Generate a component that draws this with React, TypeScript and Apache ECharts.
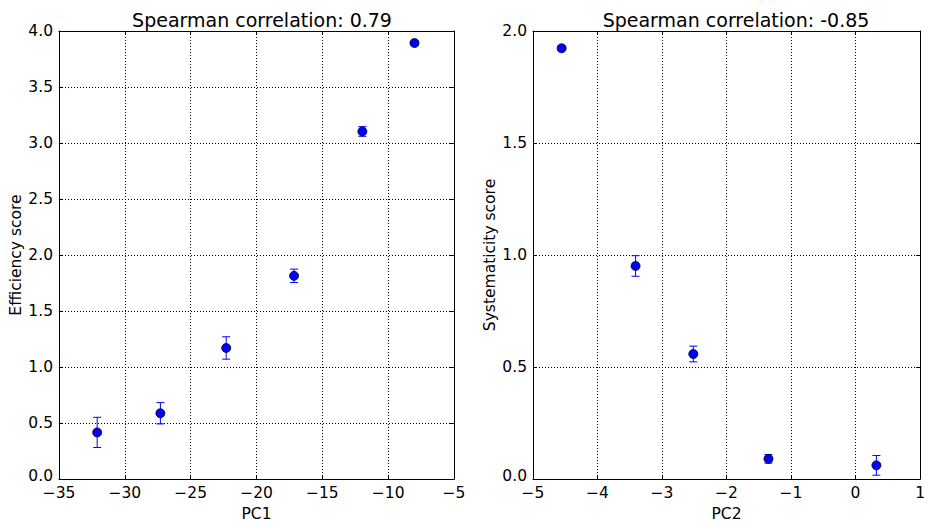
import React, { useEffect, useRef } from "react";
import * as echarts from "echarts";

const pc1 = [-32.1, -27.3, -22.3, -17.15, -11.96, -8.0];
const efficiency = [0.416, 0.587, 1.17, 1.814, 3.103, 3.893];
const efficiencyErr = [0.135, 0.095, 0.1, 0.06, 0.043, 0.018];

const pc2 = [-4.556, -3.41, -2.515, -1.35, 0.323];
const systematicity = [1.923, 0.951, 0.558, 0.09, 0.061];
const systematicityErr = [0.01, 0.046, 0.035, 0.019, 0.044];

const title1 = "Spearman correlation: 0.79";
const title2 = "Spearman correlation: -0.85";

const FONT = "DejaVu Sans";
const minus = (s: string) => s.replace("-", "\u2212");

function errRender(params: any, api: any) {
  const x = api.value(0);
  const lo = api.value(1);
  const hi = api.value(2);
  const p1 = api.coord([x, lo]);
  const p2 = api.coord([x, hi]);
  const w = 4;
  const style = { stroke: "#0000ff", lineWidth: 1 };
  return {
    type: "group",
    children: [
      { type: "line", shape: { x1: p1[0], y1: p1[1], x2: p2[0], y2: p2[1] }, style },
      { type: "line", shape: { x1: p1[0] - w, y1: p1[1], x2: p1[0] + w, y2: p1[1] }, style },
      { type: "line", shape: { x1: p2[0] - w, y1: p2[1], x2: p2[0] + w, y2: p2[1] }, style },
    ],
  };
}

export default function App() {
  const ref = useRef<HTMLDivElement>(null);
  useEffect(() => {
    if (!ref.current) return;
    const chart = echarts.init(ref.current, null, { renderer: "svg" });
    const FS = 15.5;
    const labelStyle = { color: "#000", fontFamily: FONT, fontSize: FS };
    const splitLine = { show: true, lineStyle: { color: "#000", type: [1, 2], width: 1 } };
    const tick = { show: true, inside: true, length: 4, lineStyle: { color: "#000" } };
    const line = { show: true, onZero: false, lineStyle: { color: "#000", width: 1 } };
    const mkX = (gridIndex: number, min: number, max: number, interval: number, name: string) => [
      {
        type: "value", gridIndex, min, max, interval,
        axisLine: line,
        axisTick: tick,
        axisLabel: { ...labelStyle, lineHeight: 14, margin: 7, formatter: (v: number) => minus(String(v)) },
        splitLine,
        name, nameLocation: "middle", nameGap: 27,
        nameTextStyle: { color: "#000", fontFamily: FONT, fontSize: FS },
      },
      {
        type: "value", gridIndex, min, max, interval, position: "top",
        axisLine: line,
        axisTick: tick, axisLabel: { show: false }, splitLine: { show: false },
      },
    ];
    const mkY = (gridIndex: number, min: number, max: number, interval: number, name: string, gap: number) => [
      {
        type: "value", gridIndex, min, max, interval,
        axisLine: line,
        axisTick: tick,
        axisLabel: {
          ...labelStyle, margin: 6,
          formatter: (v: number) => (v === 0 ? "{z|0.0}" : v.toFixed(1)),
          rich: { z: { color: "#000", fontFamily: FONT, fontSize: FS, padding: [0, 0, 7, 0] } },
        },
        splitLine,
        name, nameLocation: "middle", nameGap: gap,
        nameTextStyle: { color: "#000", fontFamily: FONT, fontSize: FS },
      },
      {
        type: "value", gridIndex, min, max, interval, position: "right",
        axisLine: line,
        axisTick: tick, axisLabel: { show: false }, splitLine: { show: false },
      },
    ];
    chart.setOption({
      animation: false,
      backgroundColor: "#fff",
      title: [
        { text: title1, left: 257, top: 5, textAlign: "center", textStyle: { color: "#000", fontFamily: FONT, fontSize: 19, fontWeight: "normal" } },
        { text: title2, left: 731, top: 5, textAlign: "center", textStyle: { color: "#000", fontFamily: FONT, fontSize: 19, fontWeight: "normal" } },
      ],
      grid: [
        { left: 59, top: 31, width: 395, height: 452 },
        { left: 533, top: 31, width: 396, height: 452 },
      ],
      xAxis: [...mkX(0, -35, -5, 5, "PC1"), ...mkX(1, -5, 1, 1, "PC2")],
      yAxis: [...mkY(0, 0, 4, 0.5, "Efficiency score", 34), ...mkY(1, 0, 2, 0.5, "Systematicity score", 33)],
      series: [
        {
          type: "custom", xAxisIndex: 0, yAxisIndex: 0,
          renderItem: errRender,
          encode: { x: 0, y: [1, 2] },
          data: pc1.map((x, i) => [x, efficiency[i] - efficiencyErr[i], efficiency[i] + efficiencyErr[i]]),
          z: 2,
        },
        {
          type: "scatter", xAxisIndex: 0, yAxisIndex: 0,
          data: pc1.map((x, i) => [x, efficiency[i]]),
          symbolSize: 9,
          itemStyle: { color: "#0000ff", borderColor: "#000", borderWidth: 0.8, opacity: 1 },
          z: 3,
        },
        {
          type: "custom", xAxisIndex: 2, yAxisIndex: 2,
          renderItem: errRender,
          encode: { x: 0, y: [1, 2] },
          data: pc2.map((x, i) => [x, systematicity[i] - systematicityErr[i], systematicity[i] + systematicityErr[i]]),
          z: 2,
        },
        {
          type: "scatter", xAxisIndex: 2, yAxisIndex: 2,
          data: pc2.map((x, i) => [x, systematicity[i]]),
          symbolSize: 9,
          itemStyle: { color: "#0000ff", borderColor: "#000", borderWidth: 0.8, opacity: 1 },
          z: 3,
        },
      ],
    });
    return () => chart.dispose();
  }, []);
  return <div ref={ref} style={{ width: 928, height: 527, position: "absolute", left: 0, top: 0 }} />;
}
